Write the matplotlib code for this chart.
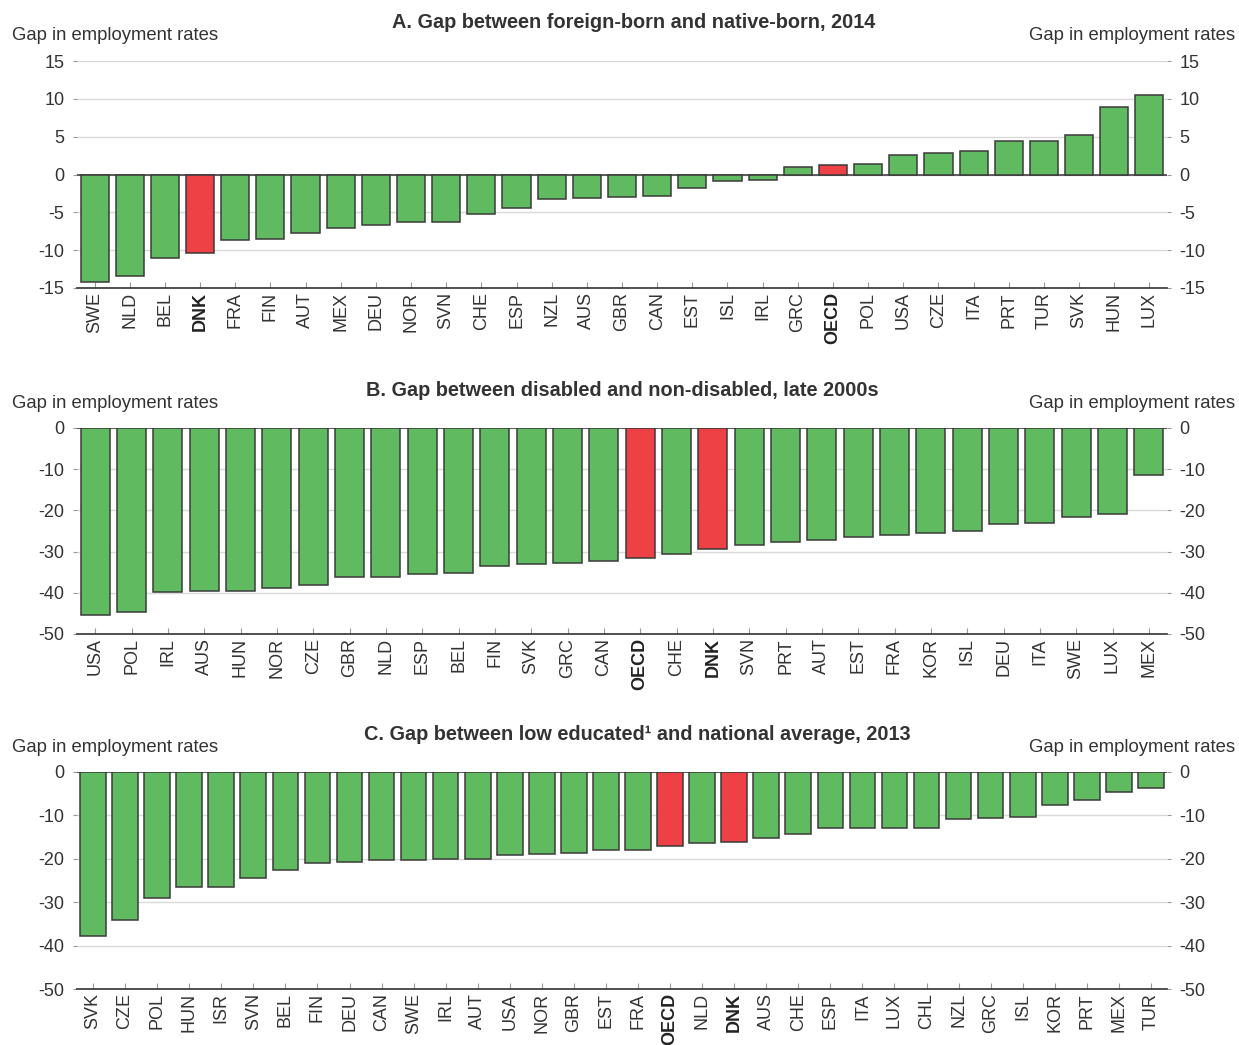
import matplotlib
matplotlib.use("Agg")
import matplotlib.pyplot as plt
import numpy as np

plt.rcParams['font.family'] = ['Liberation Sans', 'DejaVu Sans']

# Panel A
a_labels = ["SWE","NLD","BEL","DNK","FRA","FIN","AUT","MEX","DEU","NOR","SVN","CHE","ESP","NZL","AUS","GBR",
            "CAN","EST","ISL","IRL","GRC","OECD","POL","USA","CZE","ITA","PRT","TUR","SVK","HUN","LUX"]
a_values = [-14.2,-13.4,-11.0,-10.4,-8.6,-8.5,-7.7,-7.1,-6.7,-6.3,-6.3,-5.2,-4.4,-3.3,-3.1,-3.0,
            -2.8,-1.8,-0.8,-0.7,1.0,1.3,1.4,2.6,2.9,3.1,4.4,4.4,5.2,8.9,10.5]

# Panel B
b_labels = ["USA","POL","IRL","AUS","HUN","NOR","CZE","GBR","NLD","ESP","BEL","FIN","SVK","GRC","CAN",
            "OECD","CHE","DNK","SVN","PRT","AUT","EST","FRA","KOR","ISL","DEU","ITA","SWE","LUX","MEX"]
b_values = [-45.5,-44.7,-39.8,-39.6,-39.6,-38.8,-38.1,-36.1,-36.2,-35.5,-35.1,-33.5,-32.9,-32.8,-32.2,
            -31.6,-30.6,-29.3,-28.5,-27.6,-27.1,-26.5,-26.0,-25.6,-25.1,-23.4,-23.1,-21.6,-20.9,-11.4]

# Panel C
c_labels = ["SVK","CZE","POL","HUN","ISR","SVN","BEL","FIN","DEU","CAN","SWE","IRL","AUT","USA","NOR","GBR",
            "EST","FRA","OECD","NLD","DNK","AUS","CHE","ESP","ITA","LUX","CHL","NZL","GRC","ISL","KOR","PRT",
            "MEX","TUR"]
c_values = [-37.8,-34.1,-29.1,-26.6,-26.5,-24.5,-22.6,-21.0,-20.7,-20.2,-20.2,-20.1,-20.1,-19.2,-19.0,-18.7,
            -18.0,-17.9,-17.0,-16.4,-16.2,-15.1,-14.2,-13.0,-13.0,-13.0,-12.8,-10.9,-10.5,-10.4,-7.6,-6.5,
            -4.6,-3.6]

titles = ["A. Gap between foreign-born and native-born, 2014",
          "B. Gap between disabled and non-disabled, late 2000s",
          "C. Gap between low educated\u00b9 and national average, 2013"]
title_centers_px = [634, 622, 637]
ylabel_text = "Gap in employment rates"
highlight = ["DNK", "OECD"]

GREEN = "#60bb60"
RED = "#ee4146"
EDGE = "#3a3a3a"
TXT = "#333333"

W, H = 1239, 1045
fig = plt.figure(figsize=(W/100, H/100), dpi=100)

left_px, right_px = 77, 1167
panels = [
    (a_labels, a_values, (61, 288), (-15, 15), np.arange(-15, 16, 5)),
    (b_labels, b_values, (428, 634), (-50, 0), np.arange(-50, 1, 10)),
    (c_labels, c_values, (772, 989), (-50, 0), np.arange(-50, 1, 10)),
]

for (labels, values, (top_px, bot_px), ylim, yticks), title, tc in zip(panels, titles, title_centers_px):
    ax = fig.add_axes([left_px/W, 1 - bot_px/H, (right_px-left_px)/W, (bot_px-top_px)/H])
    x = np.arange(len(labels))
    colors = [RED if l in highlight else GREEN for l in labels]
    ax.bar(x, values, width=0.8, color=colors, edgecolor=EDGE, linewidth=1.1, zorder=3)
    ax.set_xlim(-0.5, len(labels) - 0.5)
    ax.set_ylim(*ylim)
    ax.set_yticks(yticks)
    ax.set_yticklabels([str(int(t)) for t in yticks])
    ax.yaxis.grid(True, color="#d9d9d9", linewidth=1.0, zorder=0)
    ax.set_axisbelow(True)
    ax.axhline(0, color="#444444", linewidth=1.2, zorder=2)
    for s in ["left", "right", "top"]:
        ax.spines[s].set_visible(False)
    ax.spines["bottom"].set_color("#333333")
    ax.spines["bottom"].set_linewidth(1.2)
    ax.tick_params(axis="y", left=True, right=True, labelleft=True, labelright=True,
                   length=3, width=0.8, color="#999999", labelsize=13, labelcolor=TXT, pad=6)
    ax.tick_params(axis="x", direction="in", length=4, width=0.8, color="#999999",
                   labelsize=13, labelcolor=TXT, pad=3)
    ax.set_xticks(x)
    ax.set_xticklabels(labels, rotation=90)
    for tl, l in zip(ax.get_xticklabels(), labels):
        if l in highlight:
            tl.set_fontweight("bold")
            tl.set_color("#222222")
    fig.text(tc/W, 1 - (top_px-38)/H, title, ha="center", va="center",
             fontsize=14.3, fontweight="bold", color=TXT)
    fig.text(12/W, 1 - (top_px-25)/H, ylabel_text, ha="left", va="center", fontsize=13.3, color=TXT)
    fig.text(1235/W, 1 - (top_px-25)/H, ylabel_text, ha="right", va="center", fontsize=13.3, color=TXT)

fig.savefig("out.png", dpi=100)
